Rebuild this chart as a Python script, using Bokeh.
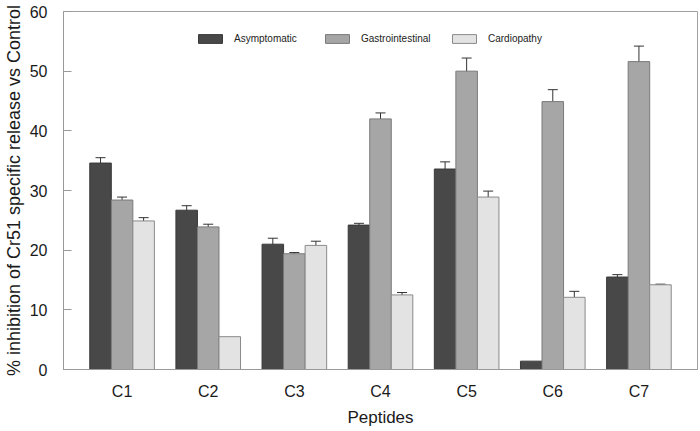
from bokeh.plotting import figure
from bokeh.models import (ColumnDataSource, FactorRange, Range1d, Whisker, TeeHead,
                          Legend, LegendItem, FixedTicker)
from bokeh.transform import dodge
from bokeh.embed import file_html
from bokeh.resources import INLINE

peptides = ["C1", "C2", "C3", "C4", "C5", "C6", "C7"]
series_names = ["Asymptomatic", "Gastrointestinal", "Cardiopathy"]
asymptomatic = [34.6, 26.7, 21.0, 24.2, 33.6, 1.4, 15.5]
asymptomatic_err = [0.9, 0.75, 1.0, 0.3, 1.2, 0.0, 0.4]
gastrointestinal = [28.4, 23.9, 19.4, 42.0, 50.0, 44.9, 51.6]
gastrointestinal_err = [0.5, 0.45, 0.2, 1.0, 2.2, 2.0, 2.6]
cardiopathy = [24.9, 5.5, 20.8, 12.5, 28.9, 12.1, 14.2]
cardiopathy_err = [0.55, 0.0, 0.7, 0.4, 1.0, 1.0, 0.1]
y_ticks = [0, 10, 20, 30, 40, 50, 60]

fills = ["#484848", "#a6a6a6", "#e3e3e3"]
outlines = ["#3a3a3a", "#7a7a7a", "#8a8a8a"]
offsets = [-0.25, 0.0, 0.25]
FONT = "Liberation Sans"

p = figure(width=700, height=431,
           x_range=FactorRange(*peptides, range_padding=0.18, range_padding_units="absolute"),
           y_range=Range1d(0, 60),
           output_backend="svg", toolbar_location=None,
           min_border_left=62, min_border_right=3, min_border_top=11, min_border_bottom=62)

p.xgrid.grid_line_color = None
p.ygrid.grid_line_color = None
p.outline_line_color = "#a0a0a0"
p.outline_line_width = 1
p.background_fill_color = "white"

legend_items = []
for name, vals, errs, off, fc, lc in zip(series_names,
                                          [asymptomatic, gastrointestinal, cardiopathy],
                                          [asymptomatic_err, gastrointestinal_err, cardiopathy_err],
                                          offsets, fills, outlines):
    src = ColumnDataSource(dict(peptide=peptides, value=vals))
    r = p.vbar(x=dodge("peptide", off, range=p.x_range), top="value", width=0.25,
               bottom=0, source=src, fill_color=fc, line_color=lc, line_width=1)
    legend_items.append(LegendItem(label=name, renderers=[r]))
    keep = [i for i, e in enumerate(errs) if e > 0]
    wsrc = ColumnDataSource(dict(
        peptide=[peptides[i] for i in keep],
        upper=[vals[i] + errs[i] for i in keep],
        lower=[vals[i] - errs[i] for i in keep]))
    w = Whisker(base=dodge("peptide", off, range=p.x_range), upper="upper", lower="lower",
                source=wsrc, line_color="#333333", line_width=1,
                upper_head=TeeHead(size=10, line_color="#333333", line_width=1),
                lower_head=TeeHead(size=10, line_color="#333333", line_width=1))
    p.add_layout(w)

legend = Legend(items=legend_items, orientation="horizontal", location=(132, 325),
                glyph_width=30, glyph_height=11, label_standoff=9, label_width=80,
                spacing=8, padding=0, margin=0, border_line_color=None,
                background_fill_alpha=0, label_text_font=FONT,
                label_text_font_size="10px", label_text_color="#222222")
p.add_layout(legend)

# y axis
yax = p.yaxis[0]
yax.ticker = FixedTicker(ticks=y_ticks)
yax.axis_line_color = "#999999"
yax.major_tick_line_color = "#999999"
yax.major_tick_in = 8
yax.major_tick_out = 0
yax.minor_tick_line_color = None
yax.major_label_standoff = 16
yax.major_label_text_font = FONT
yax.major_label_text_font_size = "16px"
yax.major_label_text_color = "#1a1a1a"
yax.axis_label = "% inhibition of Cr51 specific release vs Control"
yax.axis_label_text_font = FONT
yax.axis_label_text_font_size = "18px"
yax.axis_label_text_font_style = "normal"
yax.axis_label_text_color = "#1a1a1a"
yax.axis_label_standoff = 3

# x axis
xax = p.xaxis[0]
xax.axis_line_color = "#999999"
xax.major_tick_line_color = None
xax.minor_tick_line_color = None
xax.major_label_standoff = 7
xax.major_label_text_font = FONT
xax.major_label_text_font_size = "16px"
xax.major_label_text_color = "#1a1a1a"
xax.axis_label = "Peptides"
xax.axis_label_text_font = FONT
xax.axis_label_text_font_size = "17px"
xax.axis_label_text_font_style = "normal"
xax.axis_label_text_color = "#1a1a1a"
xax.axis_label_standoff = 5

open("out.html", "w").write(file_html(p, INLINE))
